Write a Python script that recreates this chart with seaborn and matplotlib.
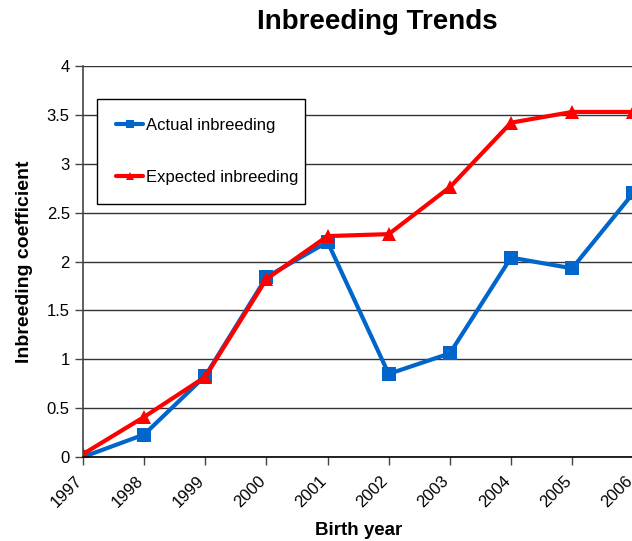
import matplotlib
matplotlib.use("Agg")
import matplotlib.pyplot as plt
import seaborn as sns
import pandas as pd

years = [1997, 1998, 1999, 2000, 2001, 2002, 2003, 2004, 2005, 2006]
actual = [0.00, 0.23, 0.83, 1.84, 2.20, 0.85, 1.06, 2.04, 1.93, 2.70]
expected = [0.03, 0.41, 0.82, 1.82, 2.26, 2.28, 2.76, 3.42, 3.53, 3.53]
series_names = ["Actual inbreeding", "Expected inbreeding"]
y_ticks = [0, 0.5, 1, 1.5, 2, 2.5, 3, 3.5, 4]
y_tick_labels = ["0", "0.5", "1", "1.5", "2", "2.5", "3", "3.5", "4"]

df = pd.DataFrame({
    "year": years * 2,
    "value": actual + expected,
    "series": [series_names[0]] * len(years) + [series_names[1]] * len(years),
})

sns.set_style("white")
plt.rcParams["font.family"] = ["Liberation Sans", "DejaVu Sans"]
for key in ("text.color", "axes.labelcolor", "xtick.color", "ytick.color"):
    plt.rcParams[key] = "#000000"

fig = plt.figure(figsize=(6.32, 5.41), dpi=100)
ax = fig.add_axes([83 / 632, 1 - 457 / 541, 1 - 83 / 632 + 0.002, (457 - 66) / 541])

sns.lineplot(
    data=df, x="year", y="value", hue="series", style="series",
    palette={series_names[0]: "#0066CC", series_names[1]: "#FF0000"},
    markers={series_names[0]: "s", series_names[1]: "^"},
    dashes=False, linewidth=3, markersize=10, markeredgewidth=0,
    ax=ax, legend=True,
)

ax.set_xlim(years[0], years[-1])
ax.set_ylim(0, 4)
ax.set_yticks(y_ticks)
ax.set_yticklabels(y_tick_labels, fontsize=12)
ax.set_xticks(years)
ax.set_xticklabels([str(y) for y in years], rotation=45, ha="right", va="baseline",
                   rotation_mode="anchor", fontsize=12)

ax.yaxis.grid(True, color="#333333", linewidth=1.0)
ax.set_axisbelow(True)
for side in ("top", "right"):
    ax.spines[side].set_visible(False)
ax.spines["left"].set_color("#444444")
ax.spines["bottom"].set_color("#000000")
ax.spines["left"].set_linewidth(1.2)
ax.spines["bottom"].set_linewidth(1.2)
ax.tick_params(axis="both", direction="out", length=6, width=1, color="#444444",
               left=True, bottom=True)
ax.tick_params(axis="x", pad=12)

ax.set_xlabel("Birth year", fontsize=13.5, fontweight="bold", labelpad=8)
ax.set_ylabel("Inbreeding coefficient", fontsize=14, fontweight="bold", labelpad=10)
fig.text(0.597, 1 - 22 / 541, "Inbreeding Trends", fontsize=20, fontweight="bold",
         ha="center", va="center")

# Fixed-width legend box in axes coordinates
box_w = (304 - 97) / 549
box_top = 1 - (99 - 66) / 391
handles, labels = ax.get_legend_handles_labels()
leg = ax.legend(handles, labels, loc="upper left", mode="expand",
                bbox_to_anchor=((97 - 83) / 549, box_top - 0.3, box_w, 0.3),
                frameon=True, fancybox=False, shadow=False, fontsize=12,
                labelspacing=2.2, handlelength=1.6, handletextpad=0.2,
                borderpad=1.15, borderaxespad=0,
                markerscale=0.6, framealpha=1)
leg.get_frame().set_edgecolor("#000000")
leg.get_frame().set_linewidth(1.0)

fig.savefig("out.png", dpi=100)
